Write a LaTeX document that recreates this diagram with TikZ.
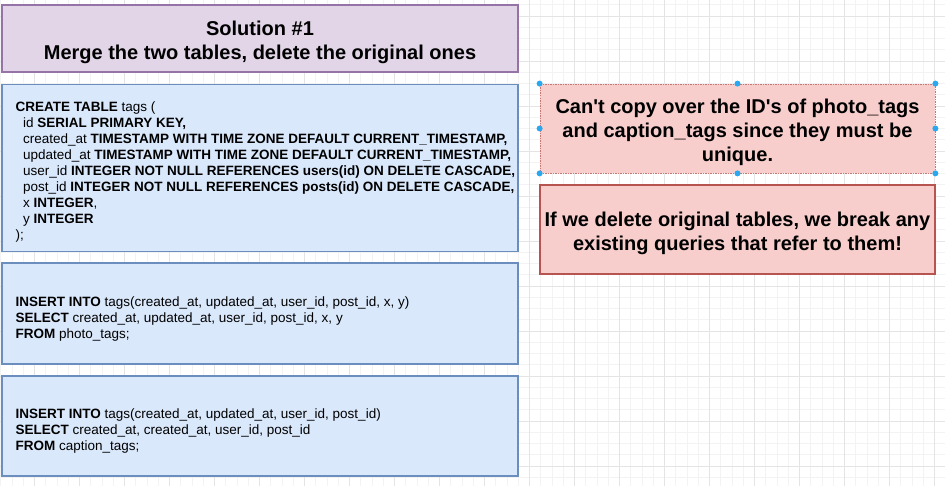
\documentclass[tikz,border=0pt]{standalone}
\usepackage{fontspec}
\setmainfont{Liberation Sans}[Ligatures=TeXOff]
\definecolor{purfill}{HTML}{E1D5E7}
\definecolor{purline}{HTML}{9673A6}
\definecolor{bluefill}{HTML}{DAE8FC}
\definecolor{blueline}{HTML}{6C8EBF}
\definecolor{redfill}{HTML}{F8CECC}
\definecolor{redline}{HTML}{B85450}
\definecolor{handle}{HTML}{29A8F0}
\definecolor{gridminor}{HTML}{F3F3F3}
\definecolor{gridmajor}{HTML}{E4E4E4}
\tikzset{
  titlebox/.style={draw=purline, fill=purfill, line width=1.2pt, minimum width=516pt, minimum height=67pt, inner sep=0pt},
  bigtext/.style={inner sep=0pt, align=center, font=\fontsize{20}{24}\selectfont\bfseries},
  codebox/.style={draw=blueline, fill=bluefill, line width=1.2pt, minimum width=516pt, inner sep=0pt},
  codetext/.style={anchor=west, inner sep=0pt, align=left, font=\fontsize{13.5}{16}\selectfont},
  notebox/.style={draw=redline, fill=redfill, line width=1.2pt, minimum width=395pt, minimum height=89pt, inner sep=0pt},
  hdl/.style={fill=handle, draw=none},
  minorgrid/.style={draw=gridminor, line width=0.6pt},
  majorgrid/.style={draw=gridmajor, line width=0.8pt},
}
\begin{document}
\begin{tikzpicture}[x=1pt, y=-1pt]
\useasboundingbox[fill=white] (0,0) rectangle (945,486);
% background grid
\foreach \i in {0,...,84} \draw[minorgrid] ({0.55+11.25*\i},0) -- ({0.55+11.25*\i},486);
\foreach \j in {0,...,43} \draw[minorgrid] (0,{4.75+11.25*\j}) -- (945,{4.75+11.25*\j});
\foreach \i in {0,...,20} \draw[majorgrid] ({34.3+45*\i},0) -- ({34.3+45*\i},486);
\foreach \j in {0,...,10} \draw[majorgrid] (0,{16+45*\j}) -- (945,{16+45*\j});
% title
\node[titlebox] (title) at (260,38.5) {};
\node[bigtext] (titletxt) at ([yshift=-3.5pt]title.center) {Solution \#1\\Merge the two tables, delete the original ones};
% code boxes
\node[codebox, minimum height=167pt] (create) at (260,168) {};
\node[codetext] (createtxt) at ([xshift=14pt,yshift=-4pt]create.west) {\textbf{CREATE TABLE} tags (\\
\ \ id \textbf{SERIAL PRIMARY KEY,}\\
\ \ created\_at \textbf{TIMESTAMP WITH TIME ZONE DEFAULT CURRENT\_TIMESTAMP,}\\
\ \ updated\_at \textbf{TIMESTAMP WITH TIME ZONE DEFAULT CURRENT\_TIMESTAMP,}\\
\ \ user\_id \textbf{INTEGER NOT NULL REFERENCES users(id) ON DELETE CASCADE,}\\
\ \ post\_id \textbf{INTEGER NOT NULL REFERENCES posts(id) ON DELETE CASCADE,}\\
\ \ x \textbf{INTEGER},\\
\ \ y \textbf{INTEGER}\\
);};
\node[codebox, minimum height=101pt] (ins1) at (260,313.5) {};
\node[codetext] (ins1txt) at ([xshift=14pt,yshift=-5.5pt]ins1.west) {\textbf{INSERT INTO} tags(created\_at, updated\_at, user\_id, post\_id, x, y)\\
\textbf{SELECT} created\_at, updated\_at, user\_id, post\_id, x, y\\
\textbf{FROM} photo\_tags;};
\node[codebox, minimum height=100pt] (ins2) at (260,426) {};
\node[codetext] (ins2txt) at ([xshift=14pt,yshift=-5.5pt]ins2.west) {\textbf{INSERT INTO} tags(created\_at, updated\_at, user\_id, post\_id)\\
\textbf{SELECT} created\_at, created\_at, user\_id, post\_id\\
\textbf{FROM} caption\_tags;};
% notes
\node[notebox, draw=redline!80, dashed, dash pattern=on 1.5pt off 1pt, line width=0.8pt] (note1) at (737.5,128.5) {};
\node[bigtext] (note1txt) at ([yshift=-3.5pt]note1.center) {Can't copy over the ID's of photo\_tags\\and caption\_tags since they must be\\unique.};
\node[notebox] (note2) at (737.5,229.5) {};
\node[bigtext] (note2txt) at ([yshift=-4pt]note2.center) {If we delete original tables, we break any\\existing queries that refer to them!};
% selection handles
\foreach \a in {north west,north,north east,east,south east,south,south west,west}
  \fill[hdl] (note1.\a) circle (3pt);
\end{tikzpicture}
\end{document}
